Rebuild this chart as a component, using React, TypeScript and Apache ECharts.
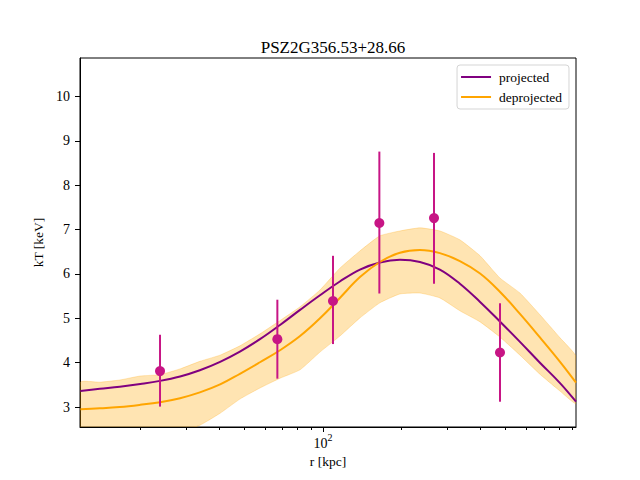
import React, { useEffect, useRef } from "react";
import * as echarts from "echarts";

const curveR = [11.8, 14.0, 16.7, 20.0, 23.8, 28.4, 33.8, 40.4, 48.1, 57.4, 68.5, 81.7, 97.4, 116, 138.5, 165, 197, 235, 280, 334, 399, 475, 567, 676, 807, 929];
const projected = [3.36, 3.41, 3.46, 3.52, 3.59, 3.69, 3.83, 4.02, 4.25, 4.53, 4.85, 5.19, 5.52, 5.83, 6.1, 6.26, 6.32, 6.27, 6.1, 5.78, 5.37, 4.93, 4.47, 4.0, 3.54, 3.12];
const deprojected = [2.95, 2.97, 3.0, 3.05, 3.11, 3.2, 3.33, 3.51, 3.75, 4.01, 4.28, 4.6, 5.0, 5.46, 5.93, 6.27, 6.48, 6.54, 6.47, 6.29, 6.01, 5.6, 5.1, 4.57, 4.02, 3.55];
const bandHi = [3.56, 3.56, 3.61, 3.7, 3.73, 3.86, 4.03, 4.17, 4.38, 4.65, 4.95, 5.26, 5.64, 6.13, 6.52, 6.86, 6.97, 7.04, 6.97, 6.77, 6.41, 5.91, 5.57, 5.08, 4.56, 4.14];
const bandLo = [2.2, 2.22, 2.26, 2.31, 2.36, 2.45, 2.59, 2.86, 3.18, 3.43, 3.65, 3.84, 4.24, 4.6, 5.01, 5.35, 5.55, 5.57, 5.46, 5.17, 4.92, 4.58, 4.17, 3.74, 3.36, 3.08];

const pointR = [23.8, 66.9, 109.2, 164.3, 265.9, 475.5];
const pointKT = [3.81, 4.53, 5.39, 7.15, 7.26, 4.23];
const pointLo = [3.01, 3.64, 4.42, 5.56, 5.78, 3.12];
const pointHi = [4.63, 5.42, 6.41, 8.76, 8.73, 5.34];

const xMajorTicks = [100];
const xMinorTicks = [20, 30, 40, 50, 60, 70, 80, 90, 200, 300, 400, 500, 600, 700, 800, 900];
const yTicks = [3, 4, 5, 6, 7, 8, 9, 10];

const X_MIN = 11.76;
const X_MAX = 928.8;
const Y_MIN = 2.55;
const Y_MAX = 10.87;

const FONT = "Liberation Serif";

export default function App() {
  const ref = useRef<HTMLDivElement>(null);
  useEffect(() => {
    if (!ref.current) return;
    const chart = echarts.init(ref.current, null, { renderer: "svg" });
    const axisCommon = {
      type: "log",
      logBase: 10,
      min: X_MIN,
      max: X_MAX,
      splitLine: { show: false },
    };
    const option: any = {
      animation: false,
      backgroundColor: "#fff",
      textStyle: { fontFamily: FONT },
      title: {
        text: "PSZ2G356.53+28.66",
        left: 328,
        top: 34,
        textAlign: "center",
        textStyle: { fontFamily: FONT, fontSize: 17, fontWeight: "normal", color: "#000" },
      },
      legend: {
        orient: "vertical",
        right: 71,
        top: 65,
        padding: [5, 7, 5, 4],
        itemGap: 6,
        itemWidth: 30,
        itemHeight: 2,
        backgroundColor: "rgba(255,255,255,0.8)",
        borderColor: "#d5d5d5",
        borderWidth: 1,
        borderRadius: 3,
        textStyle: { fontFamily: FONT, fontSize: 13.5, color: "#000", padding: [0, 0, 0, 3] },
        data: [
          { name: "projected", icon: "rect" },
          { name: "deprojected", icon: "rect" },
        ],
      },
      grid: {
        left: 80,
        right: 64,
        top: 58,
        bottom: 53,
        show: true,
        borderColor: "#000",
        borderWidth: 1,
        backgroundColor: "transparent",
      },
      xAxis: [
        {
          ...axisCommon,
          name: "r [kpc]",
          nameLocation: "middle",
          nameGap: 27,
          nameTextStyle: { fontFamily: FONT, fontSize: 13.5, color: "#000" },
          axisLine: { show: true, lineStyle: { color: "#000", width: 1 } },
          axisTick: { show: true, customValues: xMajorTicks, length: 5, lineStyle: { color: "#000" } },
          axisLabel: {
            customValues: xMajorTicks,
            margin: 5,
            color: "#000",
            formatter: () => "{b|10}{s|2}",
            rich: {
              b: { fontFamily: FONT, fontSize: 14, color: "#000", lineHeight: 18, verticalAlign: "bottom" },
              s: { fontFamily: FONT, fontSize: 10, color: "#000", lineHeight: 10, verticalAlign: "top" },
            },
          },
        },
        {
          ...axisCommon,
          position: "bottom",
          axisLine: { show: false },
          axisTick: { show: true, customValues: xMinorTicks, length: 3, lineStyle: { color: "#000" } },
          axisLabel: { show: false },
        },
      ],
      yAxis: {
        type: "value",
        min: Y_MIN,
        max: Y_MAX,
        name: "kT [keV]",
        nameLocation: "middle",
        nameGap: 33,
        nameTextStyle: { fontFamily: FONT, fontSize: 13.5, color: "#000" },
        splitLine: { show: false },
        axisLine: { show: true, lineStyle: { color: "#000", width: 1 } },
        axisTick: { show: true, customValues: yTicks, length: 5, lineStyle: { color: "#000" } },
        axisLabel: { customValues: yTicks, margin: 10, fontFamily: FONT, fontSize: 14, color: "#000" },
      },
      series: [
        {
          type: "custom",
          name: "band",
          xAxisIndex: 0,
          silent: true,
          data: curveR.map((r, i) => [r, bandLo[i], bandHi[i]]),
          encode: { x: 0, y: [1, 2] },
          z: 1,
          renderItem: (params: any, api: any) => {
            if (params.dataIndex !== 0) return null;
            const pts: number[][] = [];
            for (let i = 0; i < curveR.length; i++) pts.push(api.coord([curveR[i], bandHi[i]]));
            for (let i = curveR.length - 1; i >= 0; i--) pts.push(api.coord([curveR[i], bandLo[i]]));
            const cs = params.coordSys;
            return {
              type: "polygon",
              shape: { points: pts, smooth: 0.15 },
              style: { fill: "rgba(255,165,0,0.3)", stroke: "rgba(255,165,0,0.25)", lineWidth: 1 },
              clipPath: { type: "rect", shape: { x: cs.x, y: cs.y, width: cs.width, height: cs.height } },
            };
          },
        },
        {
          type: "line",
          name: "projected",
          xAxisIndex: 0,
          data: curveR.map((r, i) => [r, projected[i]]),
          showSymbol: false,
          symbol: "none",
          smooth: 0.4,
          lineStyle: { color: "#800080", width: 2 },
          itemStyle: { color: "#800080" },
          z: 3,
        },
        {
          type: "line",
          name: "deprojected",
          xAxisIndex: 0,
          data: curveR.map((r, i) => [r, deprojected[i]]),
          showSymbol: false,
          symbol: "none",
          smooth: 0.4,
          lineStyle: { color: "#ffa500", width: 2 },
          itemStyle: { color: "#ffa500" },
          z: 4,
        },
        {
          type: "custom",
          name: "errors",
          xAxisIndex: 0,
          silent: true,
          data: pointR.map((r, i) => [r, pointLo[i], pointHi[i]]),
          encode: { x: 0, y: [1, 2] },
          z: 5,
          renderItem: (params: any, api: any) => {
            const lo = api.coord([api.value(0), api.value(1)]);
            const hi = api.coord([api.value(0), api.value(2)]);
            return {
              type: "line",
              shape: { x1: lo[0], y1: lo[1], x2: hi[0], y2: hi[1] },
              style: { stroke: "#c71585", lineWidth: 2 },
            };
          },
        },
        {
          type: "scatter",
          name: "points",
          xAxisIndex: 0,
          data: pointR.map((r, i) => [r, pointKT[i]]),
          symbol: "circle",
          symbolSize: 10,
          itemStyle: { color: "#c71585", opacity: 1 },
          z: 6,
        },
      ],
    };
    chart.setOption(option);
    return () => chart.dispose();
  }, []);
  return (
    <div
      ref={ref}
      style={{ position: "fixed", left: 0, top: 0, width: 640, height: 480 }}
    />
  );
}
